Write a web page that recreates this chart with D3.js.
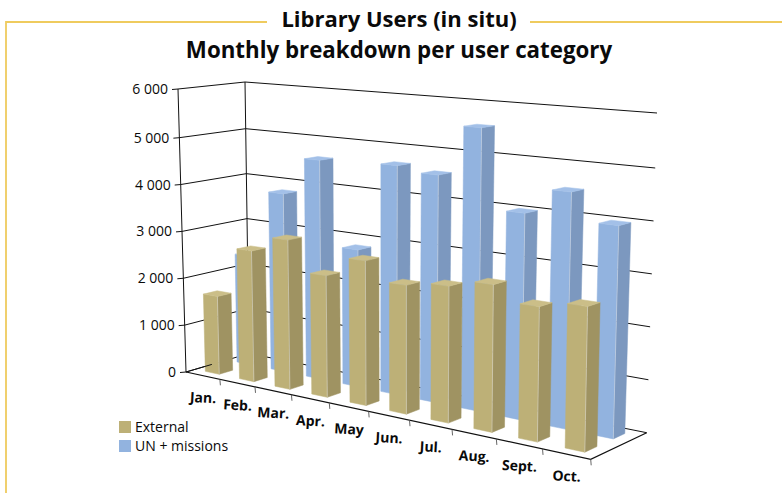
<!DOCTYPE html>
<html><head><meta charset="utf-8">
<script src="https://cdn.jsdelivr.net/npm/d3@7"></script>
<style>html,body{margin:0;padding:0;background:#fff}svg{display:block}text{font-family:"Open Sans","Noto Sans",sans-serif;fill:#0a0a0a}</style>
</head><body><svg id="c" width="782" height="493"></svg>
<script>
const months=["Jan.","Feb.","Mar.","Apr.","May","Jun.","Jul.","Aug.","Sept.","Oct."];
const externalUsers=[1650,2730,3070,2460,2880,2520,2630,2790,2510,2650];
const unMissions=[2350,3800,4600,2830,4660,4560,5560,4000,4510,3980];
const valueTicks=[0,1000,2000,3000,4000,5000,6000];
const valueLabels=["0","1 000","2 000","3 000","4 000","5 000","6 000"];
const seriesNames=["External","UN + missions"];
const palette=[{front:"#BDB077",side:"#9F9362",top:"#CBBE88"},{front:"#92B3DF",side:"#7C98BF",top:"#A3C0E8"}];

const svg=d3.select("#c");
// perspective floor, with the height vector fitted over the floor plane
function homography(p00,p10,p11,p01){
  const dx1=p10[0]-p11[0],dx2=p01[0]-p11[0],sx=p00[0]-p10[0]+p11[0]-p01[0];
  const dy1=p10[1]-p11[1],dy2=p01[1]-p11[1],sy=p00[1]-p10[1]+p11[1]-p01[1];
  const d=dx1*dy2-dx2*dy1;
  const g=(sx*dy2-dx2*sy)/d,h=(dx1*sy-sx*dy1)/d;
  const a=p10[0]-p00[0]+g*p10[0],b=p01[0]-p00[0]+h*p01[0];
  const dd=p10[1]-p00[1]+g*p10[1],e=p01[1]-p00[1]+h*p01[1];
  return (u,w)=>{const q=g*u+h*w+1;return[(a*u+b*w+p00[0])/q,(dd*u+e*w+p00[1])/q];};
}
function plane(p0,v0,p1,v1,p2,v2){
  const ax=p1[0]-p0[0],ay=p1[1]-p0[1],bx=p2[0]-p0[0],by=p2[1]-p0[1],det=ax*by-ay*bx;
  const al=((v1-v0)*by-ay*(v2-v0))/det,be=(ax*(v2-v0)-(v1-v0)*bx)/det;
  return p=>v0+al*(p[0]-p0[0])+be*(p[1]-p0[1]);
}
const floorA=[186,372],floorD=[590.7,459.3],floorC=[646.7,432.7],floorB=[249,353.5];
const topA=[178,89],topB=[245,82],topC=[657,113];
const floorH=homography(floorA,floorD,floorC,floorB);
const liftX=plane(floorA,topA[0]-floorA[0],floorB,topB[0]-floorB[0],floorC,topC[0]-floorC[0]);
const liftY=plane(floorA,topA[1]-floorA[1],floorB,topB[1]-floorB[1],floorC,topC[1]-floorC[1]);
const uScale=d3.scaleBand().domain(months).range([0,1]);
const zScale=d3.scaleBand().domain(seriesNames).range([0,1]);
const vScale=d3.scaleLinear().domain([0,5000,6000]).range([0,0.828,1]);
function P(u,w,val){const f=floorH(u,w),t=vScale(val);return[f[0]+t*liftX(f),f[1]+t*liftY(f)];}
const line=d3.line();

// walls
const walls=svg.append("g").attr("fill","none").attr("stroke","#111").attr("stroke-width",1);
valueTicks.forEach(v=>{
  walls.append("path").attr("d",line([P(0,0,v),P(0,1,v),P(1,1,v)]));
  walls.append("path").attr("d",line([[P(0,0,v)[0]-6,P(0,0,v)[1]+.5],P(0,0,v)]));
});
walls.append("path").attr("d",line([P(0,0,0),P(0,0,6000)]));
walls.append("path").attr("d",line([P(0,1,0),P(0,1,6000)]));

// bars
const depthFrac=0.42,widthFrac=0.41;
function bar(i,s,val){
  const b=uScale.bandwidth(),u0=uScale(months[i])+b*(1-widthFrac)/2,u1=u0+b*widthFrac;
  const zb=zScale.bandwidth(),w0=zScale(seriesNames[s])+zb*(1-depthFrac)/2,w1=w0+zb*depthFrac;
  return{i,s,
    front:[P(u0,w0,0),P(u1,w0,0),P(u1,w0,val),P(u0,w0,val)],
    side:[P(u1,w0,0),P(u1,w1,0),P(u1,w1,val),P(u1,w0,val)],
    top:[P(u0,w0,val),P(u1,w0,val),P(u1,w1,val),P(u0,w1,val)],
    edge:[P(u1,w0,0),P(u1,w0,val)]};
}
[unMissions,externalUsers].forEach((vals,k)=>{
  const s=k===0?1:0;
  const g=svg.append("g");
  const sel=g.selectAll("g").data(vals.map((v,i)=>bar(i,s,v))).join("g");
  const closed=d=>line(d)+"Z";
  sel.append("path").attr("d",d=>closed(d.front)).attr("fill",palette[s].front).attr("stroke",palette[s].front).attr("stroke-width",.5);
  sel.append("path").attr("d",d=>closed(d.side)).attr("fill",palette[s].side).attr("stroke",palette[s].side).attr("stroke-width",.5);
  sel.append("path").attr("d",d=>closed(d.top)).attr("fill",palette[s].top).attr("stroke",palette[s].top).attr("stroke-width",.5);
  sel.append("path").attr("d",d=>line(d.edge)).attr("stroke","#fff").attr("stroke-opacity",.4).attr("stroke-width",1);
});

// floor front edges
const axisG=svg.append("g").attr("fill","none").attr("stroke","#111");
axisG.append("path").attr("stroke-width",1.2).attr("d",line([P(0,0,0),P(1,0,0),P(1,1,0)]));
axisG.append("path").attr("stroke-width",1).attr("d",line([P(0,0,0),P(0,0.4,0)]));
months.forEach((m,i)=>{
  const u=uScale(m)+uScale.bandwidth(),p=P(u,0,0);
  axisG.append("path").attr("stroke-width",.9).attr("stroke","#555").attr("d",line([p,[p[0]+.5,p[1]+6]]));
});
svg.append("g").selectAll("text").data(months).join("text")
  .attr("transform",m=>{const p=P(uScale(m)+uScale.bandwidth()/2,0,0);return`translate(${p[0]},${p[1]+27}) rotate(3)`;})
  .attr("text-anchor","middle").attr("font-size",14).attr("font-weight",700).text(d=>d);
svg.append("g").selectAll("text").data(valueTicks).join("text")
  .attr("x",v=>P(0,0,v)[0]-10).attr("y",v=>P(0,0,v)[1]+5)
  .attr("text-anchor","end").attr("font-size",14).text((v,i)=>valueLabels[i]);

// legend
const lg=svg.append("g").selectAll("g").data(seriesNames).join("g").attr("transform",(d,i)=>`translate(119,${421+i*19})`);
lg.append("rect").attr("width",12).attr("height",12).attr("fill",(d,i)=>palette[i].front);
lg.append("text").attr("x",16).attr("y",11).attr("font-size",14).text(d=>d);

// title & frame
svg.append("path").attr("fill","none").attr("stroke","#EFCB5E").attr("stroke-width",1.8)
  .attr("d","M267,22H6V493");
svg.append("path").attr("fill","none").attr("stroke","#EFCB5E").attr("stroke-width",1.8).attr("d","M530,22H782");
svg.append("text").attr("x",399).attr("y",27).attr("text-anchor","middle").attr("font-size",22).attr("font-weight",700).text("Library Users (in situ)");
svg.append("text").attr("x",399).attr("y",58).attr("text-anchor","middle").attr("font-size",22.3).attr("font-weight",700).text("Monthly breakdown per user category");
</script></body></html>
